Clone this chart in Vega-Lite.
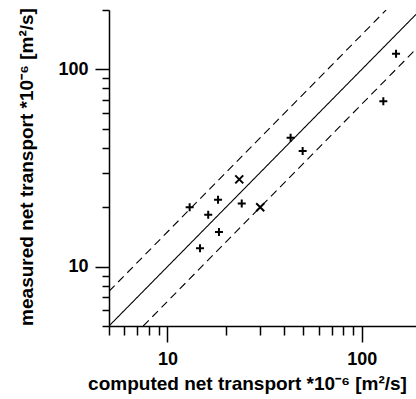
{
  "$schema": "https://vega.github.io/schema/vega-lite/v6.json",
  "width": 307,
  "height": 316,
  "autosize": "none",
  "padding": {"left": 109, "top": 10, "right": 0, "bottom": 73},
  "background": "white",
  "config": {
    "view": {"stroke": null},
    "axis": {
      "grid": false,
      "domainColor": "#000",
      "tickColor": "#000",
      "labelColor": "#000",
      "titleColor": "#000",
      "labelFont": "Liberation Sans",
      "titleFont": "Liberation Sans",
      "domainWidth": 1.5,
      "tickWidth": 1.5,
      "labelOverlap": false,
      "labelFlush": false
    }
  },
  "datasets": {
    "lines": [
      {"name": "equal", "style": "solid", "x": 5, "y": 5},
      {"name": "equal", "style": "solid", "x": 190, "y": 190},
      {"name": "upper", "style": "dashed", "x": 5, "y": 7.5},
      {"name": "upper", "style": "dashed", "x": 133.3, "y": 200},
      {"name": "lower", "style": "dashed", "x": 7.5, "y": 5},
      {"name": "lower", "style": "dashed", "x": 190, "y": 126.7}
    ],
    "points": [
      {"x": 13.0, "y": 20.0, "marker": "plus"},
      {"x": 16.2, "y": 18.3, "marker": "plus"},
      {"x": 18.2, "y": 21.8, "marker": "plus"},
      {"x": 14.7, "y": 12.4, "marker": "plus"},
      {"x": 18.4, "y": 15.0, "marker": "plus"},
      {"x": 23.4, "y": 27.7, "marker": "x"},
      {"x": 24.1, "y": 20.9, "marker": "plus"},
      {"x": 30.0, "y": 20.0, "marker": "x"},
      {"x": 43.0, "y": 45.0, "marker": "plus"},
      {"x": 49.6, "y": 38.6, "marker": "plus"},
      {"x": 129, "y": 69, "marker": "plus"},
      {"x": 150, "y": 120, "marker": "plus"}
    ]
  },
  "encoding": {
    "x": {
      "field": "x",
      "type": "quantitative",
      "scale": {"type": "log", "domain": [5, 190], "nice": false},
      "axis": {
        "values": [5, 6, 7, 8, 9, 10, 20, 30, 40, 50, 60, 70, 80, 90, 100],
        "labelExpr": "(datum.value == 10 || datum.value == 100) ? format(datum.value, 'd') : ''",
        "tickSize": {"condition": {"test": "datum.value == 10 || datum.value == 100", "value": 16}, "value": 9},
        "labelFontSize": 18,
        "labelFontWeight": "bold",
        "labelPadding": 8,
        "title": "computed net transport *10⁻⁶ [m²/s]",
        "titleFontSize": 19,
        "titleFontWeight": "bold",
        "titleX": 138,
        "titleY": 63,
        "titleBaseline": "alphabetic"
      }
    },
    "y": {
      "field": "y",
      "type": "quantitative",
      "scale": {"type": "log", "domain": [5, 200], "nice": false},
      "axis": {
        "values": [5, 6, 7, 8, 9, 10, 20, 30, 40, 50, 60, 70, 80, 90, 100, 200],
        "labelExpr": "(datum.value == 10 || datum.value == 100) ? format(datum.value, 'd') : ''",
        "tickSize": {"condition": {"test": "datum.value == 10 || datum.value == 100", "value": 14}, "value": 7},
        "labelFontSize": 18,
        "labelFontWeight": "bold",
        "labelPadding": 7,
        "title": "measured net transport *10⁻⁶ [m²/s]",
        "titleFontSize": 19,
        "titleFontWeight": "bold",
        "titleX": -77,
        "titleY": 156.5,
        "titleBaseline": "alphabetic"
      }
    }
  },
  "layer": [
    {
      "data": {"name": "lines"},
      "mark": {"type": "line", "clip": true, "color": "#000", "strokeWidth": 1.1},
      "encoding": {
        "detail": {"field": "name"},
        "strokeDash": {
          "field": "style",
          "type": "nominal",
          "scale": {"domain": ["solid", "dashed"], "range": [[1, 0], [8, 5]]},
          "legend": null
        }
      }
    },
    {
      "data": {"name": "points"},
      "mark": {"type": "point", "filled": false, "strokeWidth": 2, "color": "#000", "opacity": 1, "size": 64},
      "encoding": {
        "shape": {
          "field": "marker",
          "type": "nominal",
          "scale": {"domain": ["plus", "x"], "range": ["M-1,0H1M0,-1V1", "M-1,-1L1,1M-1,1L1,-1"]},
          "legend": null
        }
      }
    }
  ]
}
